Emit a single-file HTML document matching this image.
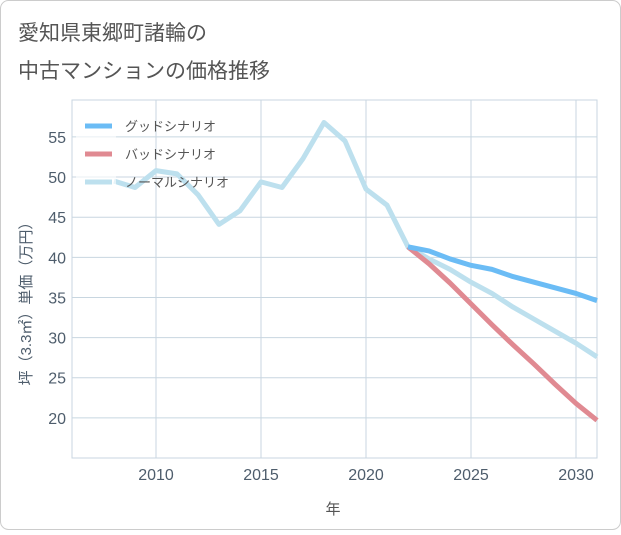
<!DOCTYPE html>
<html><head><meta charset="utf-8"><style>
body{margin:0;background:#fff;font-family:"Liberation Sans","Noto Sans CJK JP",sans-serif}
</style></head><body>
<svg width="621" height="530" xmlns="http://www.w3.org/2000/svg">
<rect x="0.5" y="0.5" width="620" height="529" rx="8" fill="#fff" stroke="#ccc"/>
<text x="18" y="40" font-size="21" fill="#555">愛知県東郷町諸輪の</text>
<text x="18" y="78" font-size="21" fill="#555">中古マンションの価格推移</text>
<g id="grid"></g>
<g id="series"></g>
<g>
<rect x="76" y="112" width="40" height="80" fill="#fff" opacity="0.6"/>
<line x1="85" y1="126" x2="112" y2="126" stroke="#6bbcf5" stroke-width="5"/>
<text x="125" y="131" font-size="13" fill="#555">グッドシナリオ</text>
<line x1="85" y1="154" x2="112" y2="154" stroke="#e08a92" stroke-width="5"/>
<text x="125" y="159" font-size="13" fill="#555">バッドシナリオ</text>
<line x1="85" y1="182" x2="112" y2="182" stroke="#bde0ee" stroke-width="5"/>
<text x="125" y="187" font-size="13" fill="#555">ノーマルシナリオ</text>
</g>
<text x="333" y="514" font-size="15" fill="#555" text-anchor="middle">年</text>
<text transform="translate(31,300) rotate(-90)" font-size="15" fill="#4e5d6c" text-anchor="middle">坪（3.3㎡）単価（万円）</text>
</svg>
<script>
const years=[2008,2009,2010,2011,2012,2013,2014,2015,2016,2017,2018,2019,2020,2021,2022,2023,2024,2025,2026,2027,2028,2029,2030,2031];
const normal=[49.5,48.7,50.8,50.4,47.8,44.1,45.8,49.4,48.7,52.3,56.8,54.5,48.5,46.5,41.3,39.8,38.5,36.9,35.5,33.8,32.3,30.8,29.3,27.6];
const goodYears=[2022,2023,2024,2025,2026,2027,2028,2029,2030,2031];
const good=[41.3,40.8,39.8,39.0,38.5,37.6,36.9,36.2,35.5,34.6];
const bad=[41.3,39.2,36.8,34.2,31.6,29.1,26.7,24.2,21.8,19.7];
const xTicks=[2010,2015,2020,2025,2030];
const yTicks=[20,25,30,35,40,45,50,55];
const X0=72,X1=597,Y0=458,Y1=100,xmin=2006,xmax=2031,ymin=15,ymax=59.6;
const x=v=>X0+(v-xmin)/(xmax-xmin)*(X1-X0);
const y=v=>Y0-(v-ymin)/(ymax-ymin)*(Y0-Y1);
const NS="http://www.w3.org/2000/svg";
const g=document.getElementById('grid'),s=document.getElementById('series');
function mk(p,t,a){const e=document.createElementNS(NS,t);for(const k in a)e.setAttribute(k,a[k]);p.appendChild(e);return e;}
const f=mk(g,'rect',{x:X0,y:Y1,width:X1-X0,height:Y0-Y1,fill:'none',stroke:'#c8d6e0'});


yTicks.forEach(v=>{const l=mk(g,'line',{x1:X0,x2:X1,y1:y(v),y2:y(v),stroke:'#c8d6e0'});


const t=mk(g,'text',{x:X0-6,y:y(v)+6,'font-size':16,fill:'#4e5d6c','text-anchor':'end'});t.textContent=v;

});
xTicks.forEach(v=>{const l=mk(g,'line',{x1:x(v),x2:x(v),y1:Y1,y2:Y0,stroke:'#c8d6e0'});


const t=mk(g,'text',{x:x(v),y:Y0+22,'font-size':16,fill:'#4e5d6c','text-anchor':'middle'});t.textContent=v;

});
function line(xs,vs,c,n){const p=mk(s,'polyline',{points:xs.map((yr,i)=>x(yr)+','+y(vs[i])).join(' '),fill:'none',stroke:c,'stroke-width':5,'stroke-linejoin':'round'});

}
line(years,normal,'#bde0ee','normal-line');
line(goodYears,bad,'#e08a92','bad-line');
line(goodYears,good,'#6bbcf5','good-line');
</script>
</body></html>
